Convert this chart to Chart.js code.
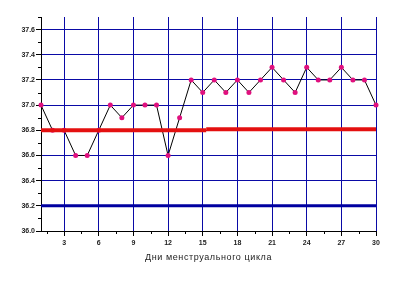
<!DOCTYPE html>
<html>
<head>
<meta charset="utf-8">
<script src="https://cdn.jsdelivr.net/npm/chart.js@4"></script>
<style>
  html, body { margin: 0; padding: 0; background: #fff; }
  #wrap { width: 397px; height: 282px; }
</style>
</head>
<body>
<div id="wrap"><canvas id="chart"></canvas></div>
<script>
// ----- DATA -----
const days = [1, 2, 3, 4, 5, 6, 7, 8, 9, 10, 11, 12, 13, 14, 15,
              16, 17, 18, 19, 20, 21, 22, 23, 24, 25, 26, 27, 28, 29, 30];
const temps = [37.0, 36.8, 36.8, 36.6, 36.6, 36.8, 37.0, 36.9, 37.0, 37.0,
               37.0, 36.6, 36.9, 37.2, 37.1, 37.2, 37.1, 37.2, 37.1, 37.2,
               37.3, 37.2, 37.1, 37.3, 37.2, 37.2, 37.3, 37.2, 37.2, 37.0];

// red cover line (two pieces, small step after day 15)
const redLeftX = [1, 15.3];
const redLeftY = [36.8, 36.8];
const redRightX = [15.3, 30];
const redRightY = [36.808, 36.808];

// blue line
const blueX = [1, 30];
const blueY = [36.2, 36.2];

const xTicks = [1.5, 3, 4.5, 6, 7.5, 9, 10.5, 12, 13.5, 15, 16.5, 18,
                19.5, 21, 22.5, 24, 25.5, 27, 28.5, 30];
const yTicks = [36.0, 36.1, 36.2, 36.3, 36.4, 36.5, 36.6, 36.7, 36.8,
                36.9, 37.0, 37.1, 37.2, 37.3, 37.4, 37.5, 37.6, 37.7];

const xTitle = "Дни менструального цикла";

const gridBlue = "#0a0aa6";
const isMajorX = v => Math.abs(v % 3) < 1e-6;
const isMajorY = v => Math.round(v * 10) % 2 === 0;

const toPts = (xs, ys) => xs.map((x, i) => ({ x: x, y: ys[i] }));

// ----- MINOR TICKS + SPACED AXIS TITLE -----
const extras = {
    id: "extras",
    afterDraw(chart) {
        const ctx = chart.ctx;
        const xs = chart.scales.x, ys = chart.scales.y;
        ctx.save();
        ctx.strokeStyle = "#000";
        ctx.lineWidth = 1;
        ctx.beginPath();
        xTicks.filter(v => !isMajorX(v)).forEach(v => {
            const px = Math.round(xs.getPixelForValue(v)) + 0.5;
            ctx.moveTo(px, ys.bottom);
            ctx.lineTo(px, ys.bottom + 3);
        });
        yTicks.filter(v => !isMajorY(v)).forEach(v => {
            const py = Math.round(ys.getPixelForValue(v)) + 0.5;
            ctx.moveTo(xs.left - 3, py);
            ctx.lineTo(xs.left, py);
        });
        ctx.stroke();

        // axis title, letter-spaced like the original
        ctx.font = "9px 'Liberation Sans'";
        ctx.fillStyle = "#222";
        ctx.textAlign = "center";
        ctx.textBaseline = "middle";
        ctx.letterSpacing = "0.6px";
        ctx.fillText(xTitle, (xs.left + xs.right) / 2, ys.bottom + 27);
        ctx.restore();
    }
};

// ----- CHART -----
new Chart(document.getElementById("chart"), {
    type: "line",
    data: {
        datasets: [
            {
                data: toPts(redLeftX, redLeftY),
                borderColor: "#e41010",
                borderWidth: 4,
                pointRadius: 0,
                order: 0
            },
            {
                data: toPts(redRightX, redRightY),
                borderColor: "#e41010",
                borderWidth: 4,
                pointRadius: 0,
                order: 0
            },
            {
                data: toPts(blueX, blueY),
                borderColor: "#0000a0",
                borderWidth: 3,
                pointRadius: 0,
                order: 2
            },
            {
                data: toPts(days, temps),
                borderColor: "#000",
                borderWidth: 1,
                pointRadius: 2.5,
                pointBackgroundColor: "#e0107e",
                pointBorderColor: "#e0107e",
                pointBorderWidth: 0,
                clip: false,
                order: 1
            }
        ]
    },
    options: {
        responsive: true,
        maintainAspectRatio: false,
        animation: false,
        layout: { padding: { top: 17, right: 21, left: 0, bottom: 0 } },
        plugins: {
            legend: { display: false },
            tooltip: { enabled: false }
        },
        scales: {
            x: {
                type: "linear",
                min: 1,
                max: 30,
                afterBuildTicks: s => { s.ticks = xTicks.map(v => ({ value: v })); },
                afterFit: s => { s.height = 51; },
                border: { color: "#000", width: 1 },
                grid: {
                    color: c => (c.tick && isMajorX(c.tick.value)) ? gridBlue : "rgba(0,0,0,0)",
                    tickColor: c => (c.tick && isMajorX(c.tick.value)) ? "#000" : "rgba(0,0,0,0)",
                    tickLength: 5,
                    lineWidth: 1
                },
                ticks: {
                    autoSkip: false,
                    maxRotation: 0,
                    padding: 3,
                    color: "#222",
                    font: { family: "Liberation Sans", size: 7, weight: "bold" },
                    callback: v => isMajorX(v) ? String(v) : ""
                }
            },
            y: {
                min: 36.0,
                max: 37.7,
                afterBuildTicks: s => { s.ticks = yTicks.map(v => ({ value: v })); },
                afterFit: s => { s.width = 41; },
                border: { color: "#000", width: 1 },
                grid: {
                    color: c => (c.tick && isMajorY(c.tick.value) && c.tick.value > 36.05) ? gridBlue : "rgba(0,0,0,0)",
                    tickColor: c => (c.tick && isMajorY(c.tick.value)) ? "#000" : "rgba(0,0,0,0)",
                    tickLength: 5,
                    lineWidth: 1
                },
                ticks: {
                    autoSkip: false,
                    padding: 1,
                    color: "#222",
                    font: { family: "Liberation Sans", size: 7, weight: "bold" },
                    callback: v => isMajorY(v) ? v.toFixed(1) : ""
                }
            }
        }
    },
    plugins: [extras]
});
</script>
</body>
</html>
